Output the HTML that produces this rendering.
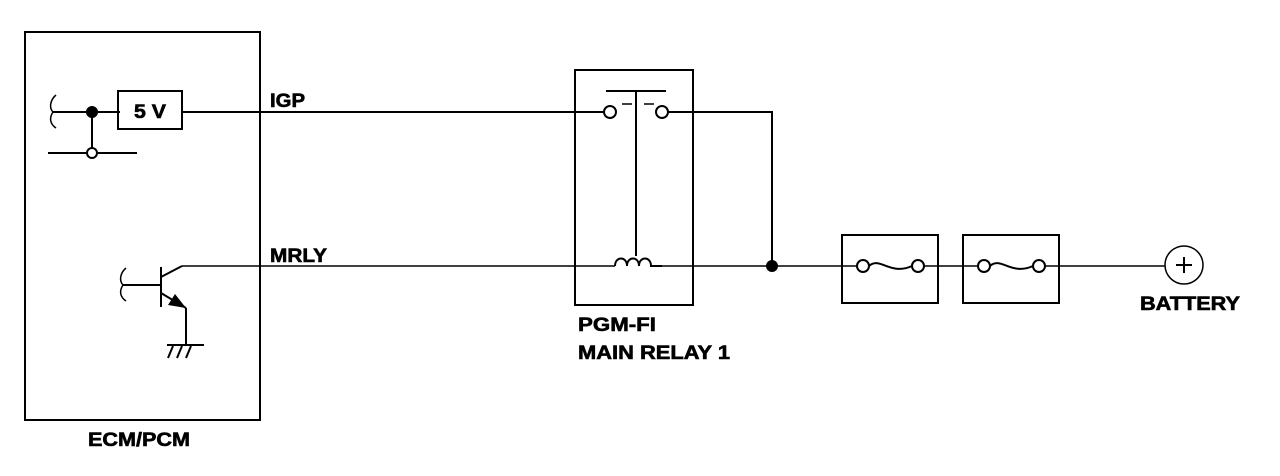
<!DOCTYPE html>
<html><head><style>body{margin:0;background:#fff}svg{display:block}text{font-family:"Liberation Sans",Arial,sans-serif;font-weight:bold;fill:#000;stroke:#000;stroke-width:0.6}</style></head>
<body>
<svg width="1280" height="476" viewBox="0 0 1280 476" fill="none" stroke="#000" stroke-width="2">
<rect x="25" y="32" width="235" height="388"/>
<text x="88" y="446" font-size="19" textLength="102" lengthAdjust="spacingAndGlyphs">ECM/PCM</text>
<!-- IGP -->
<path d="M56 95 C50 100,49 108,53 112 C49 118,50 124,56 128" stroke-width="1.5"/>
<line x1="53" y1="112" x2="120" y2="112"/>
<circle cx="92" cy="112" r="5" fill="#000"/>
<line x1="92" y1="112" x2="92" y2="148"/>
<line x1="48" y1="153" x2="137" y2="153"/>
<circle cx="92" cy="153" r="5" fill="#fff"/>
<rect x="118" y="91" width="64" height="38"/>
<text x="134" y="118" font-size="19" textLength="32" lengthAdjust="spacingAndGlyphs">5 V</text>
<line x1="182" y1="112" x2="604" y2="112"/>
<text x="270" y="107" font-size="19" textLength="35" lengthAdjust="spacingAndGlyphs">IGP</text>
<!-- transistor -->
<path d="M126 268 C120 273,119 281,123 285 C119 291,120 297,126 301" stroke-width="1.5"/>
<line x1="123" y1="285" x2="161" y2="285"/>
<line x1="161" y1="267" x2="161" y2="307"/>
<line x1="161" y1="277" x2="182" y2="266"/>
<line x1="161" y1="293" x2="186" y2="308"/>
<polygon points="186,308 168,305 175,294" fill="#000" stroke="none"/>
<line x1="186" y1="308" x2="186" y2="345"/>
<line x1="167" y1="345" x2="204" y2="345"/>
<line x1="173" y1="346" x2="168" y2="358"/><line x1="182" y1="346" x2="177" y2="358"/><line x1="191" y1="346" x2="186" y2="358"/>
<line x1="182" y1="266" x2="615" y2="266" stroke-width="1.5"/>
<text x="270" y="262" font-size="19" textLength="57" lengthAdjust="spacingAndGlyphs">MRLY</text>
<!-- relay -->
<rect x="575" y="70" width="118" height="235"/>
<line x1="606" y1="91" x2="666" y2="91"/>
<line x1="636" y1="91" x2="636" y2="256"/>
<circle cx="610" cy="112" r="6" fill="#fff"/>
<circle cx="662" cy="112" r="6" fill="#fff"/>
<line x1="622" y1="104" x2="632" y2="104" stroke-width="1.5"/><line x1="644" y1="104" x2="654" y2="104" stroke-width="1.5"/>
<path d="M668 112 H772 V266"/>
<path d="M615 266 C615 256,627 256,627 266 C627 256,639 256,639 266 C639 256,651 256,651 266 L662 266"/>
<line x1="662" y1="266" x2="842" y2="266" stroke-width="1.5"/>
<circle cx="772" cy="266" r="5" fill="#000"/>
<text x="578" y="331" font-size="19" textLength="78" lengthAdjust="spacingAndGlyphs">PGM-FI</text>
<text x="578" y="359" font-size="19" textLength="152" lengthAdjust="spacingAndGlyphs">MAIN RELAY 1</text>
<!-- fuses -->
<rect x="842" y="235" width="96" height="68"/>
<rect x="963" y="235" width="96" height="68"/>
<line x1="938" y1="266" x2="963" y2="266" stroke-width="1.5"/>
<line x1="842" y1="266" x2="857" y2="266" stroke-width="1.5"/>
<circle cx="863" cy="266" r="6"/><circle cx="918" cy="266" r="6"/>
<path d="M869 266 C880 256,890 276,912 266"/>
<line x1="924" y1="266" x2="938" y2="266" stroke-width="1.5"/>
<line x1="963" y1="266" x2="978" y2="266" stroke-width="1.5"/>
<circle cx="984" cy="266" r="6"/><circle cx="1039" cy="266" r="6"/>
<path d="M990 266 C1001 256,1011 276,1033 266"/>
<line x1="1045" y1="266" x2="1165" y2="266" stroke-width="1.5"/>
<circle cx="1184" cy="265" r="19" stroke-width="1.5"/>
<line x1="1176" y1="265" x2="1192" y2="265"/><line x1="1184" y1="257" x2="1184" y2="273"/>
<text x="1140" y="310" font-size="19" textLength="100" lengthAdjust="spacingAndGlyphs">BATTERY</text>
</svg>
</body></html>
